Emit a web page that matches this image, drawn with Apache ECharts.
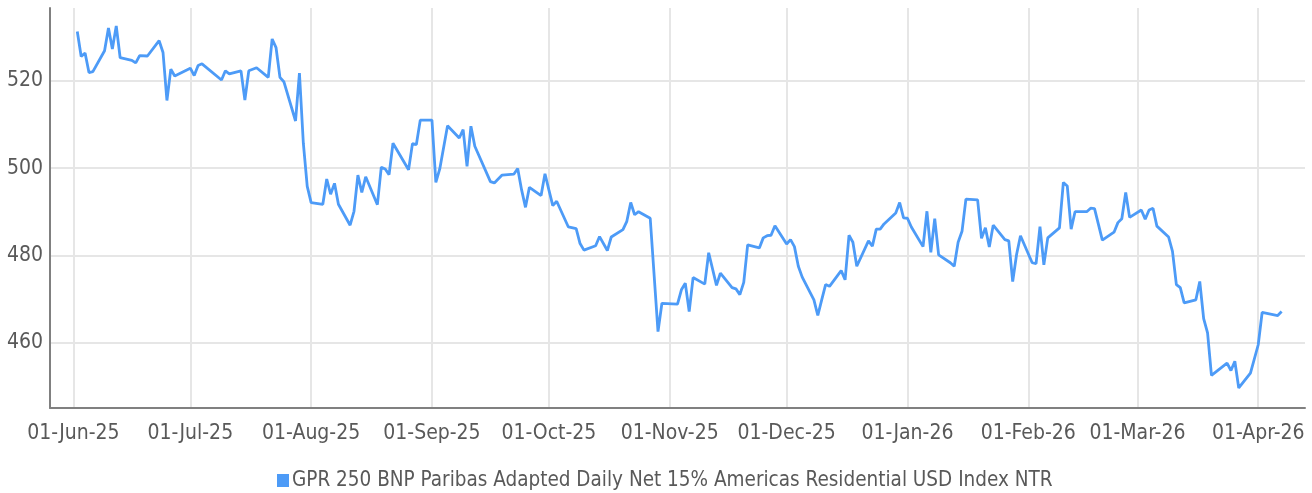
<!DOCTYPE html>
<html>
<head>
<meta charset="utf-8">
<title>GPR 250 Americas Residential</title>
<script src="https://cdn.jsdelivr.net/npm/echarts@6/dist/echarts.min.js"></script>
<style>
  html, body { margin: 0; padding: 0; background: #fff; }
  #main { width: 1312px; height: 493px; }
</style>
</head>
<body>
<div id="main"></div>
<script>
// index levels (trading days)
var seriesName = 'GPR 250 BNP Paribas Adapted Daily Net 15% Americas Residential USD Index NTR';
var dates = [
  '2025-06-02','2025-06-03','2025-06-04','2025-06-05','2025-06-06','2025-06-09','2025-06-10','2025-06-11','2025-06-12','2025-06-13',
  '2025-06-16','2025-06-17','2025-06-18','2025-06-20','2025-06-23','2025-06-24','2025-06-25','2025-06-26','2025-06-27','2025-07-01',
  '2025-07-02','2025-07-03','2025-07-04','2025-07-09','2025-07-10','2025-07-11','2025-07-14','2025-07-15','2025-07-16','2025-07-18',
  '2025-07-21','2025-07-22','2025-07-23','2025-07-24','2025-07-25','2025-07-28','2025-07-29','2025-07-30','2025-07-31','2025-08-01',
  '2025-08-04','2025-08-05','2025-08-06','2025-08-07','2025-08-08','2025-08-11','2025-08-12','2025-08-13','2025-08-14','2025-08-15',
  '2025-08-18','2025-08-19','2025-08-20','2025-08-21','2025-08-22','2025-08-26','2025-08-27','2025-08-28','2025-08-29','2025-09-01',
  '2025-09-02','2025-09-03','2025-09-05','2025-09-08','2025-09-09','2025-09-10','2025-09-11','2025-09-12','2025-09-16','2025-09-17',
  '2025-09-19','2025-09-22','2025-09-23','2025-09-24','2025-09-25','2025-09-26','2025-09-29','2025-09-30','2025-10-01','2025-10-02',
  '2025-10-03','2025-10-06','2025-10-08','2025-10-09','2025-10-10','2025-10-13','2025-10-14','2025-10-16','2025-10-17','2025-10-20',
  '2025-10-21','2025-10-22','2025-10-23','2025-10-24','2025-10-27','2025-10-29','2025-10-30','2025-11-03','2025-11-04','2025-11-05',
  '2025-11-06','2025-11-07','2025-11-10','2025-11-11','2025-11-13','2025-11-14','2025-11-17','2025-11-18','2025-11-19','2025-11-20',
  '2025-11-21','2025-11-24','2025-11-25','2025-11-26','2025-11-27','2025-11-28','2025-12-01','2025-12-02','2025-12-03','2025-12-04',
  '2025-12-05','2025-12-08','2025-12-09','2025-12-10','2025-12-11','2025-12-12','2025-12-15','2025-12-16','2025-12-17','2025-12-18',
  '2025-12-19','2025-12-22','2025-12-23','2025-12-24','2025-12-25','2025-12-26','2025-12-29','2025-12-30','2025-12-31','2026-01-01',
  '2026-01-02','2026-01-05','2026-01-06','2026-01-07','2026-01-08','2026-01-09','2026-01-12','2026-01-13','2026-01-14','2026-01-15',
  '2026-01-16','2026-01-19','2026-01-20','2026-01-21','2026-01-22','2026-01-23','2026-01-26','2026-01-27','2026-01-28','2026-01-29',
  '2026-01-30','2026-02-02','2026-02-03','2026-02-04','2026-02-05','2026-02-06','2026-02-09','2026-02-10','2026-02-11','2026-02-12',
  '2026-02-13','2026-02-16','2026-02-17','2026-02-18','2026-02-20','2026-02-23','2026-02-24','2026-02-25','2026-02-26','2026-02-27',
  '2026-03-02','2026-03-03','2026-03-04','2026-03-05','2026-03-06','2026-03-09','2026-03-10','2026-03-11','2026-03-12','2026-03-13',
  '2026-03-16','2026-03-17','2026-03-18','2026-03-19','2026-03-20','2026-03-24','2026-03-25','2026-03-26','2026-03-27','2026-03-30',
  '2026-04-01','2026-04-02','2026-04-06','2026-04-07'
];
var values = [
  531.3,525.6,526.4,521.9,522.1,526.9,532.1,527.3,532.6,525.3,
  524.7,524.1,525.8,525.7,529.2,526.5,515.5,522.7,521.1,522.9,
  521.2,523.5,523.9,520.2,522.3,521.6,522.3,515.6,522.3,523.0,
  520.8,529.6,527.6,520.8,519.8,510.8,521.8,505.7,495.8,492.1,
  491.7,497.5,494.0,496.5,491.7,486.9,490.1,498.4,494.4,498.0,
  491.6,500.2,499.8,498.5,505.7,499.6,505.6,505.4,511.0,511.0,
  496.7,499.8,509.7,506.9,508.8,500.4,509.6,505.0,496.9,496.6,
  498.4,498.6,499.9,495.0,491.0,495.6,493.7,498.7,495.0,491.4,
  492.4,486.5,486.1,482.7,481.2,482.2,484.3,481.1,484.2,485.9,
  487.8,492.1,489.3,490.0,488.5,462.5,469.0,468.8,472.1,473.6,
  467.1,474.9,473.4,480.6,473.1,475.9,472.6,472.3,471.0,473.8,
  482.4,481.7,484.0,484.5,484.6,486.8,482.6,483.6,482.0,477.5,
  475.0,469.8,466.2,469.8,473.3,472.9,476.5,474.4,484.6,483.0,
  477.5,483.3,482.1,486.0,486.0,487.2,489.7,492.1,488.6,488.5,
  486.5,482.0,490.1,480.7,488.4,480.1,478.3,477.5,483.0,485.5,
  492.9,492.7,483.9,486.3,481.9,486.9,483.6,483.3,474.0,480.2,
  484.5,478.3,478.1,486.6,477.8,484.0,486.3,496.7,495.9,486.0,
  490.0,490.0,490.8,490.7,483.5,485.3,487.5,488.4,494.4,488.7,
  490.4,488.3,490.4,490.8,486.7,484.2,480.9,473.3,472.6,469.1,
  469.8,474.0,465.5,462.2,452.5,455.3,453.6,455.7,449.6,453.0,
  459.5,466.9,466.2,467.1
];

var font = "'Liberation Sans Narrow', 'DejaVu Sans Condensed', sans-serif";
var lineColor = '#4d9bf7';

var chart = echarts.init(document.getElementById('main'));
var option = {
  animation: false,
  textStyle: { fontFamily: font },
  grid: { left: 50, right: 7, top: 8, bottom: 85, containLabel: false },
  legend: {
    bottom: 2,
    left: 277,
    padding: 0,
    icon: 'rect',
    itemWidth: 12,
    itemHeight: 13,
    itemGap: 10,
    textStyle: { fontFamily: font, fontSize: 20.5, color: '#595959', padding: [0, 0, 0, -2] },
    data: [seriesName]
  },
  xAxis: {
    type: 'time',
    min: '2025-05-26',
    max: '2026-04-13',
    minInterval: 28 * 24 * 3600 * 1000,
    maxInterval: 31 * 24 * 3600 * 1000,
    axisLine: { lineStyle: { color: '#808080', width: 2 } },
    axisTick: { show: false },
    axisLabel: {
      formatter: '{dd}-{MMM}-{yy}',
      fontFamily: font,
      fontSize: 21,
      color: '#595959',
      margin: 15,
      showMinLabel: false,
      showMaxLabel: false,
      hideOverlap: false
    },
    splitLine: {
      show: true,
      showMinLine: false,
      showMaxLine: false,
      lineStyle: { color: '#e6e6e6', width: 2 }
    }
  },
  yAxis: {
    type: 'value',
    min: 445,
    max: 536.7,
    splitNumber: 5,
    axisLine: { show: true, lineStyle: { color: '#808080', width: 2 } },
    axisTick: { show: false },
    axisLabel: {
      fontFamily: font,
      fontSize: 21,
      color: '#595959',
      margin: 7,
      showMinLabel: false,
      showMaxLabel: false
    },
    splitLine: {
      show: true,
      showMinLine: false,
      showMaxLine: false,
      lineStyle: { color: '#e6e6e6', width: 2 }
    }
  },
  series: [{
    name: seriesName,
    type: 'line',
    showSymbol: false,
    color: lineColor,
    lineStyle: { width: 2.8, color: lineColor },
    data: dates.map(function (d, i) { return [d, values[i]]; })
  }]
};
chart.setOption(option);
</script>
</body>
</html>
